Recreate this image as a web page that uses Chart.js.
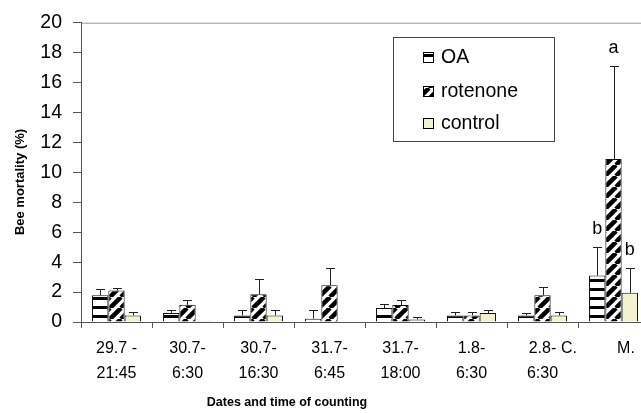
<!DOCTYPE html>
<html>
<head>
<meta charset="utf-8">
<script src="https://cdn.jsdelivr.net/npm/chart.js@4"></script>
<style>
  html, body { margin: 0; padding: 0; background: #fff; overflow: hidden; }
  #wrap { width: 660px; height: 413px; }
</style>
</head>
<body>
<div id="wrap"><canvas id="chart" width="660" height="413"></canvas></div>
<script>
// datos
const categories = [
  ['29.7 -', '21:45'], ['30.7-', '6:30'], ['30.7-', '16:30'], ['31.7-', '6:45'],
  ['31.7-', '18:00'], ['1.8-', '6:30'], ['2.8-', '6:30'], ['C.         M.       ']
];
const seriesNames = ['OA', 'rotenone', 'control'];

const oaValues = [1.78, 0.6, 0.44, 0.22, 0.93, 0.44, 0.44, 3.1];
const oaErrors = [0.42, 0.2, 0.36, 0.58, 0.27, 0.21, 0.16, 1.9];
const oaLetters = ['', '', '', '', '', '', '', 'b'];

const rotValues = [2.1, 1.15, 1.85, 2.45, 1.13, 0.44, 1.78, 10.9];
const rotErrors = [0.2, 0.31, 1.05, 1.15, 0.37, 0.21, 0.59, 6.2];
const rotLetters = ['', '', '', '', '', '', '', 'a'];

const ctlValues = [0.44, 0.05, 0.44, 0.04, 0.17, 0.6, 0.44, 1.95];
const ctlErrors = [0.21, 0, 0.36, 0, 0.16, 0.2, 0.21, 1.63];
const ctlLetters = ['', '', '', '', '', '', '', 'b'];

const yTicks = [0, 2, 4, 6, 8, 10, 12, 14, 16, 18, 20];

// patrones de relleno
const makePattern = (w, h, draw) => {
  const c = document.createElement('canvas');
  c.width = w; c.height = h;
  const g = c.getContext('2d');
  g.fillStyle = '#fff';
  g.fillRect(0, 0, w, h);
  draw(g, w, h);
  return document.createElement('canvas').getContext('2d').createPattern(c, 'repeat');
};

const hStripes = makePattern(8, 9, (g, w) => {
  g.fillStyle = '#000';
  g.fillRect(0, 0, w, 3);
});

const diagStripes = makePattern(11, 11, (g, w, h) => {
  g.strokeStyle = '#000';
  g.lineWidth = 4.5;
  g.beginPath();
  [-w, 0, w].forEach(o => {
    g.moveTo(o, h);
    g.lineTo(o + w, 0);
  });
  g.stroke();
});

const controlFill = '#f4f1d0';

const errorBars = {
  id: 'errorBars',
  afterDatasetsDraw(chart) {
    const { ctx } = chart;
    const y = chart.scales.y;
    chart.data.datasets.forEach((ds, i) => {
      const meta = chart.getDatasetMeta(i);
      meta.data.forEach((bar, j) => {
        const err = ds.errors[j];
        const top = y.getPixelForValue(ds.data[j] + err);
        ctx.save();
        if (err > 0) {
          ctx.strokeStyle = '#222';
          ctx.lineWidth = 1;
          ctx.beginPath();
          ctx.moveTo(Math.round(bar.x) + 0.5, bar.y);
          ctx.lineTo(Math.round(bar.x) + 0.5, Math.round(top) + 0.5);
          ctx.moveTo(Math.round(bar.x) - 4, Math.round(top) + 0.5);
          ctx.lineTo(Math.round(bar.x) + 5, Math.round(top) + 0.5);
          ctx.stroke();
        }
        if (ds.letters[j]) {
          ctx.fillStyle = '#000';
          ctx.font = '18px "Liberation Sans", Arial, sans-serif';
          ctx.textAlign = 'center';
          ctx.textBaseline = 'bottom';
          ctx.fillText(ds.letters[j], bar.x, top - 9);
        }
        ctx.restore();
      });
    });
  }
};

const frame = {
  id: 'frame',
  beforeDraw(chart) {
    const { ctx, chartArea } = chart;
    ctx.save();
    ctx.strokeStyle = '#8c99a6';
    ctx.lineWidth = 1;
    ctx.beginPath();
    ctx.moveTo(chartArea.left, chartArea.top + 0.5);
    ctx.lineTo(chartArea.right, chartArea.top + 0.5);
    ctx.stroke();
    ctx.restore();
  },
  afterDraw(chart) {
    const { ctx } = chart;
    ctx.save();
    ctx.fillStyle = '#000';
    ctx.font = 'bold 12.5px "Liberation Sans", Arial, sans-serif';
    ctx.textAlign = 'center';
    ctx.textBaseline = 'middle';
    ctx.fillText('Dates and time of counting', 287, 403);
    ctx.font = 'bold 13px "Liberation Sans", Arial, sans-serif';
    ctx.translate(20, 182);
    ctx.rotate(-Math.PI / 2);
    ctx.fillText('Bee mortality (%)', 0, 0);
    ctx.restore();

    // leyenda
    ctx.save();
    ctx.strokeStyle = '#444';
    ctx.lineWidth = 1;
    ctx.strokeRect(393.5, 37.5, 161, 104);
    ctx.font = '19.5px "Liberation Sans", Arial, sans-serif';
    ctx.textBaseline = 'middle';
    const rows = [57, 91, 123];
    chart.data.datasets.forEach((ds, i) => {
      ctx.fillStyle = ds.backgroundColor;
      ctx.fillRect(423, rows[i] - 5, 10, 10);
      ctx.strokeStyle = '#000';
      ctx.strokeRect(423.5, rows[i] - 4.5, 10, 10);
      ctx.fillStyle = '#000';
      ctx.fillText(ds.label, 441, rows[i] + 1);
    });
    ctx.restore();
  }
};

const makeDataset = (label, data, errors, letters, fill) => ({
  label, data, errors, letters,
  backgroundColor: fill,
  borderColor: '#111',
  borderWidth: 1,
  categoryPercentage: 0.69,
  barPercentage: 1
});

new Chart(document.querySelector('#chart'), {
  type: 'bar',
  data: {
    labels: categories,
    datasets: [
      makeDataset(seriesNames[0], oaValues, oaErrors, oaLetters, hStripes),
      makeDataset(seriesNames[1], rotValues, rotErrors, rotLetters, diagStripes),
      makeDataset(seriesNames[2], ctlValues, ctlErrors, ctlLetters, controlFill)
    ]
  },
  options: {
    responsive: false,
    animation: false,
    layout: { padding: { top: 15, right: 11, bottom: 0, left: 0 } },
    plugins: { legend: { display: false }, tooltip: { enabled: false } },
    scales: {
      x: {
        offset: true,
        grid: { offset: true, drawOnChartArea: false, tickLength: 6, color: '#555' },
        border: { color: '#555' },
        ticks: {
          color: '#000', maxRotation: 0, autoSkip: false, padding: 8,
          font: { family: '"Liberation Sans", Arial, sans-serif', size: 16, lineHeight: 1.55 }
        },
        afterFit: (s) => { s.height = 91; s.paddingRight = 0; s.paddingLeft = 0; }
      },
      y: {
        min: 0, max: 20,
        afterBuildTicks: (s) => { s.ticks = yTicks.map(v => ({ value: v })); },
        grid: { drawOnChartArea: false, tickLength: 8, color: '#555' },
        border: { color: '#555' },
        ticks: {
          color: '#000', padding: 11,
          font: { family: '"Liberation Sans", Arial, sans-serif', size: 19.5 }
        },
        afterFit: (s) => { s.width = 81; }
      }
    }
  },
  plugins: [frame, errorBars]
});
</script>
</body>
</html>
